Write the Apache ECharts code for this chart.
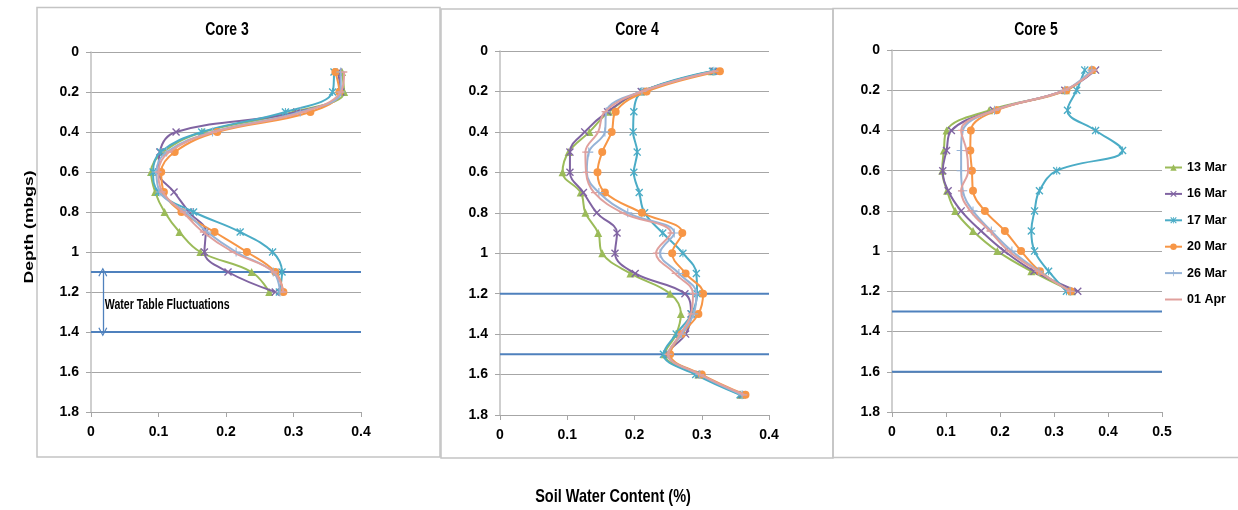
<!DOCTYPE html>
<html>
<head>
<meta charset="utf-8">
<title>Soil water content profiles</title>
<script src="https://cdn.jsdelivr.net/npm/echarts@6/dist/echarts.min.js"></script>
<style>
  html, body { margin: 0; padding: 0; background: #ffffff; }
  #chart { width: 1238px; height: 510px; }
</style>
</head>
<body>
<div id="chart"></div>
<script>
// Sampling depths (m below ground surface)
const depths3 = [0.1, 0.2, 0.3, 0.4, 0.5, 0.6, 0.7, 0.8, 0.9, 1.0, 1.1, 1.2];
const depths4 = [0.1, 0.2, 0.3, 0.4, 0.5, 0.6, 0.7, 0.8, 0.9, 1.0, 1.1, 1.2, 1.3, 1.4, 1.5, 1.6, 1.7];
const depths5 = [0.1, 0.2, 0.3, 0.4, 0.5, 0.6, 0.7, 0.8, 0.9, 1.0, 1.1, 1.2];

const dates = ['13 Mar', '16 Mar', '17 Mar', '20 Mar', '26 Mar', '01 Apr'];

// Core 3 soil water content per survey date
const core3_13Mar = [0.372, 0.375, 0.300, 0.166, 0.107, 0.089, 0.095, 0.109, 0.131, 0.162, 0.238, 0.264];
const core3_16Mar = [0.366, 0.370, 0.305, 0.126, 0.102, 0.100, 0.123, 0.145, 0.170, 0.168, 0.203, 0.273];
const core3_17Mar = [0.360, 0.358, 0.288, 0.164, 0.103, 0.092, 0.100, 0.152, 0.221, 0.269, 0.283, 0.279];
const core3_20Mar = [0.362, 0.368, 0.325, 0.187, 0.124, 0.104, 0.108, 0.134, 0.183, 0.231, 0.273, 0.285];
const core3_26Mar = [0.370, 0.370, 0.310, 0.180, 0.112, 0.097, 0.102, 0.140, 0.172, 0.215, 0.270, 0.280];
const core3_01Apr = [0.375, 0.370, 0.315, 0.182, 0.116, 0.100, 0.106, 0.136, 0.166, 0.210, 0.271, 0.285];

// Core 4
const core4_13Mar = [0.315, 0.210, 0.162, 0.133, 0.102, 0.093, 0.120, 0.127, 0.146, 0.152, 0.194, 0.253, 0.269, 0.262, 0.245, 0.295, 0.358];
const core4_16Mar = [0.318, 0.210, 0.160, 0.126, 0.104, 0.104, 0.124, 0.144, 0.174, 0.171, 0.201, 0.275, 0.284, 0.276, 0.250, 0.297, 0.360];
const core4_17Mar = [0.316, 0.213, 0.199, 0.198, 0.204, 0.199, 0.207, 0.215, 0.242, 0.272, 0.292, 0.293, 0.285, 0.262, 0.243, 0.291, 0.357];
const core4_20Mar = [0.327, 0.218, 0.172, 0.166, 0.152, 0.145, 0.156, 0.211, 0.271, 0.256, 0.276, 0.302, 0.295, 0.270, 0.253, 0.300, 0.365];
const core4_26Mar = [0.318, 0.211, 0.158, 0.156, 0.132, 0.129, 0.147, 0.190, 0.259, 0.238, 0.266, 0.292, 0.288, 0.270, 0.250, 0.297, 0.360];
const core4_01Apr = [0.320, 0.211, 0.156, 0.146, 0.127, 0.128, 0.140, 0.182, 0.254, 0.232, 0.260, 0.287, 0.284, 0.268, 0.250, 0.298, 0.363];

// Core 5
const core5_13Mar = [0.370, 0.322, 0.180, 0.101, 0.096, 0.093, 0.102, 0.117, 0.150, 0.195, 0.258, 0.333];
const core5_16Mar = [0.377, 0.320, 0.188, 0.110, 0.101, 0.094, 0.104, 0.128, 0.165, 0.208, 0.263, 0.344];
const core5_17Mar = [0.357, 0.342, 0.325, 0.377, 0.427, 0.305, 0.273, 0.264, 0.258, 0.264, 0.290, 0.323];
const core5_20Mar = [0.371, 0.323, 0.194, 0.146, 0.145, 0.148, 0.150, 0.172, 0.209, 0.239, 0.274, 0.331];
const core5_26Mar = [0.370, 0.320, 0.190, 0.131, 0.128, 0.128, 0.131, 0.150, 0.184, 0.222, 0.272, 0.330];
const core5_01Apr = [0.375, 0.320, 0.190, 0.128, 0.138, 0.141, 0.128, 0.145, 0.181, 0.216, 0.270, 0.330];

// Water table fluctuation range (upper and lower level, m)
const waterTable3 = [1.1, 1.4];
const waterTable4 = [1.2, 1.5];
const waterTable5 = [1.3, 1.6];

// Axis ranges and tick steps
const xMax = [0.4, 0.4, 0.5];
const xStep = 0.1;
const depthMax = 1.8;
const depthStep = 0.2;

const FONT = '"Liberation Sans", Arial, sans-serif';

const colors = ['#9BBB59', '#8064A2', '#4BACC6', '#F79646', '#95B3D7', '#E0A09D'];
const WT_COLOR = '#4F81BD';

// Outline-style markers built as thin filled shapes
const SYM_X = 'path://M1.2,0L5,3.8L8.8,0L10,1.2L6.2,5L10,8.8L8.8,10L5,6.2L1.2,10L0,8.8L3.8,5L0,1.2Z';
const SYM_STAR = 'path://M1.2,0L5,3.8L8.8,0L10,1.2L6.2,5L10,8.8L8.8,10L5,6.2L1.2,10L0,8.8L3.8,5L0,1.2ZM4.4,0H5.6V10H4.4Z';
const SYM_PLUS = 'path://M4.4,0H5.6V4.4H10V5.6H5.6V10H4.4V5.6H0V4.4H4.4Z';
// Short horizontal dash: a thin bar centred in a square box
const SYM_DASH = 'path://M0,0H0.01V0.01H0ZM10,10H9.99V9.99H10ZM1,4.2H9V5.8H1Z';
const symbols = ['triangle', SYM_X, SYM_STAR, 'circle', SYM_PLUS, SYM_DASH];
const symbolSizes = [8, 8, 8, 8, 9, 8];

const cores = [
  { depths: depths3, values: [core3_13Mar, core3_16Mar, core3_17Mar, core3_20Mar, core3_26Mar, core3_01Apr], wt: waterTable3 },
  { depths: depths4, values: [core4_13Mar, core4_16Mar, core4_17Mar, core4_20Mar, core4_26Mar, core4_01Apr], wt: waterTable4 },
  { depths: depths5, values: [core5_13Mar, core5_16Mar, core5_17Mar, core5_20Mar, core5_26Mar, core5_01Apr], wt: waterTable5 }
];

// Plot areas of the three panels (px)
const grids = [
  { left: 91, top: 52, width: 270, height: 360 },
  { left: 500, top: 51, width: 269, height: 364 },
  { left: 892, top: 50, width: 270, height: 362 }
];

const gridLineColor = '#A6A6A6';
const axisLineColor = '#BFBFBF';
const tickFont = { color: '#000', fontFamily: FONT, fontWeight: 'bold', fontSize: 14 };

const xAxes = grids.map((g, i) => ({
  type: 'value', gridIndex: i, min: 0, max: xMax[i], interval: xStep,
  position: 'bottom',
  axisLine: { show: true, onZero: false, lineStyle: { color: gridLineColor, width: 1 } },
  axisTick: { show: true, length: 5, lineStyle: { color: gridLineColor } },
  splitLine: { show: false },
  axisLabel: Object.assign({ margin: 13 }, tickFont)
}));

const yAxes = grids.map((g, i) => ({
  type: 'value', gridIndex: i, min: 0, max: depthMax, interval: depthStep, inverse: true,
  axisLine: { show: true, onZero: false, lineStyle: { color: axisLineColor, width: 1.5 } },
  axisTick: { show: true, length: 5, lineStyle: { color: gridLineColor } },
  splitLine: { show: true, lineStyle: { color: gridLineColor, width: 1.2 } },
  axisLabel: Object.assign({ margin: 12 }, tickFont)
}));

const series = [];

// Water table levels drawn as horizontal lines across each plot
cores.forEach((c, i) => {
  c.wt.forEach((level, k) => {
    const s = {
      name: 'Water table', type: 'line', xAxisIndex: i, yAxisIndex: i,
      data: [[0, level], [xMax[i], level]],
      symbol: 'none', silent: true, z: 1,
      lineStyle: { color: WT_COLOR, width: 2 }
    };
    if (i === 0 && k === 0) {
      // Double-headed arrow spanning the fluctuation range
      const head = 'path://M0,10L5,0L10,10L8.8,10.6L5,3L1.2,10.6Z';
      s.markLine = {
        silent: true,
        symbol: [head, head],
        symbolSize: [9, 9],
        lineStyle: { color: WT_COLOR, width: 1.3, type: 'solid' },
        label: { show: false },
        data: [[{ coord: [0.0175, waterTable3[0]] }, { coord: [0.0175, waterTable3[1]] }]]
      };
    }
    series.push(s);
  });
});

// Soil water content profiles
cores.forEach((c, i) => {
  dates.forEach((d, j) => {
    series.push({
      name: d, type: 'line', xAxisIndex: i, yAxisIndex: i,
      data: c.depths.map((dep, k) => [c.values[j][k], dep]),
      smooth: 0.4,
      symbol: symbols[j], symbolSize: symbolSizes[j], symbolKeepAspect: true, showSymbol: true,
      itemStyle: { color: colors[j], borderWidth: 0 },
      lineStyle: { color: colors[j], width: 2 },
      z: 2 + j
    });
  });
});

function centeredText(text, x, y, size, extra) {
  return Object.assign({
    type: 'text', x: x, y: y, silent: true,
    style: {
      text: text, fill: '#000', font: 'bold ' + size + 'px ' + FONT,
      align: 'center', verticalAlign: 'middle', textAlign: 'center', textVerticalAlign: 'middle'
    }
  }, extra || {});
}

// Panel frames, titles and axis names
const panelStroke = { fill: 'none', stroke: '#C4C4C4', lineWidth: 1.5 };
const graphic = [
  { type: 'rect', shape: { x: 37, y: 7.5, width: 403, height: 449.5 }, style: panelStroke, silent: true },
  { type: 'rect', shape: { x: 441, y: 9, width: 392, height: 449 }, style: panelStroke, silent: true },
  { type: 'rect', shape: { x: 833, y: 8.5, width: 420, height: 449 }, style: panelStroke, silent: true }
];
[['Core 3', 227], ['Core 4', 637], ['Core 5', 1036]].forEach(([t, x]) => {
  graphic.push(centeredText(t, x, 30, 14, { scaleY: 1.3 }));
});
graphic.push(centeredText('Depth (mbgs)', 29, 227, 13, { rotation: Math.PI / 2, scaleX: 1.35 }));
graphic.push(centeredText('Soil Water Content (%)', 613, 497, 14.5, { scaleY: 1.25 }));

const option = {
  animation: false,
  backgroundColor: '#ffffff',
  grid: grids.map(g => Object.assign({ containLabel: false }, g)),
  xAxis: xAxes,
  yAxis: yAxes,
  legend: {
    data: dates,
    orient: 'vertical',
    left: 1164, top: 159.5, padding: 0,
    itemWidth: 17, itemHeight: 8, itemGap: 10.4,
    textStyle: { color: '#000', fontFamily: FONT, fontWeight: 'bold', fontSize: 12.5, lineHeight: 16 },
    selectedMode: false
  },
  graphic: graphic,
  series: series
};

const chart = echarts.init(document.getElementById('chart'), null, { renderer: 'canvas' });
chart.setOption(option);

// Note beside the arrow, placed through the Core 3 coordinate system
const notePos = chart.convertToPixel({ gridIndex: 0 }, [0.0175, 1.265]);
graphic.push({
  type: 'text', x: notePos[0] + 2, y: notePos[1], scaleY: 1.3, silent: true,
  style: {
    text: 'Water Table Fluctuations', fill: '#000', font: 'bold 10.6px ' + FONT,
    align: 'left', verticalAlign: 'middle', textAlign: 'left', textVerticalAlign: 'middle'
  }
});
chart.setOption({ graphic: graphic });
</script>
</body>
</html>
